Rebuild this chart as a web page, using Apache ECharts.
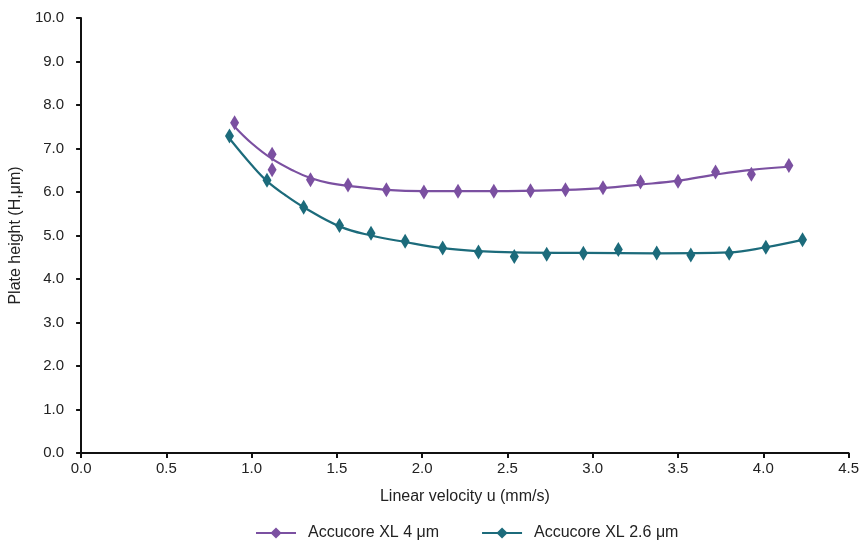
<!DOCTYPE html>
<html>
<head>
<meta charset="utf-8">
<script src="https://cdn.jsdelivr.net/npm/echarts@6/dist/echarts.min.js"></script>
<style>
  html, body { margin: 0; padding: 0; background: #fff; }
  #main { width: 862px; height: 542px; }
</style>
</head>
<body>
<div id="main"></div>
<script>
// measured points
var xl4X = [0.90, 1.12, 1.12, 1.345, 1.565, 1.79, 2.01, 2.21, 2.42, 2.635, 2.84, 3.06, 3.28, 3.50, 3.72, 3.93, 4.15];
var xl4Y = [7.59, 6.87, 6.51, 6.28, 6.16, 6.05, 6.00, 6.02, 6.02, 6.03, 6.05, 6.10, 6.23, 6.25, 6.46, 6.41, 6.61];
var xl26X = [0.87, 1.09, 1.305, 1.515, 1.70, 1.90, 2.12, 2.33, 2.54, 2.73, 2.945, 3.15, 3.375, 3.575, 3.80, 4.015, 4.23];
var xl26Y = [7.29, 6.27, 5.65, 5.23, 5.05, 4.87, 4.71, 4.62, 4.52, 4.57, 4.59, 4.68, 4.60, 4.55, 4.59, 4.73, 4.90];

// trend curves
var fit4X = [0.90, 1.00, 1.12, 1.25, 1.345, 1.45, 1.565, 1.79, 2.01, 2.42, 2.84, 3.06, 3.28, 3.50, 3.72, 3.93, 4.15];
var fit4Y = [7.50, 7.12, 6.76, 6.48, 6.32, 6.21, 6.14, 6.05, 6.02, 6.02, 6.05, 6.09, 6.17, 6.26, 6.40, 6.51, 6.58];
var fit26X = [0.87, 1.00, 1.09, 1.20, 1.305, 1.515, 1.70, 1.90, 2.12, 2.33, 2.54, 2.945, 3.375, 3.80, 4.015, 4.23];
var fit26Y = [7.23, 6.62, 6.25, 5.92, 5.65, 5.21, 5.00, 4.85, 4.71, 4.64, 4.61, 4.60, 4.59, 4.61, 4.73, 4.90];

var names = ['Accucore XL 4 μm', 'Accucore XL 2.6 μm'];
var colors = ['#7b50a1', '#1c6b7b'];

function pairs(xs, ys) {
  var out = [];
  for (var i = 0; i < xs.length; i++) out.push([xs[i], ys[i]]);
  return out;
}

var chart = echarts.init(document.getElementById('main'));

var font = 'Liberation Sans, Arial, sans-serif';
var tickText = { color: '#222', fontSize: 15, fontFamily: font };
var nameText = { color: '#222', fontSize: 16, fontFamily: font };

var series = [];
var fits = [[fit4X, fit4Y], [fit26X, fit26Y]];
var pts = [[xl4X, xl4Y], [xl26X, xl26Y]];
for (var i = 0; i < names.length; i++) {
  series.push({
    name: names[i],
    type: 'line',
    smooth: 0.4,
    symbol: 'diamond',
    symbolSize: [9, 14],
    showSymbol: false,
    lineStyle: { color: colors[i], width: 2.2 },
    itemStyle: { color: colors[i] },
    data: pairs(fits[i][0], fits[i][1]),
    z: 2
  });
}
for (var j = 0; j < names.length; j++) {
  series.push({
    name: names[j],
    type: 'scatter',
    symbol: 'diamond',
    symbolSize: [9, 15],
    itemStyle: { color: colors[j], opacity: 1 },
    data: pairs(pts[j][0], pts[j][1]),
    z: 3
  });
}

var option = {
  backgroundColor: '#fff',
  animation: false,
  grid: { left: 80, right: 12, top: 18, bottom: 89, containLabel: false },
  legend: {
    top: 525,
    left: 255,
    itemWidth: 40,
    itemHeight: 14,
    itemGap: 42,
    padding: 0,
    textStyle: { color: '#222', fontSize: 16, fontFamily: font, padding: [0, 0, 0, 7] },
    data: names
  },
  xAxis: {
    type: 'value',
    min: 0,
    max: 4.5,
    interval: 0.5,
    name: 'Linear velocity u (mm/s)',
    nameLocation: 'middle',
    nameGap: 36,
    nameTextStyle: nameText,
    axisLine: { lineStyle: { color: '#111', width: 2 } },
    axisTick: { show: true, inside: false, length: 5, lineStyle: { color: '#111', width: 2 } },
    axisLabel: Object.assign({ margin: 8, formatter: function (v) { return v.toFixed(1); } }, tickText),
    splitLine: { show: false }
  },
  yAxis: {
    type: 'value',
    min: 0,
    max: 10,
    interval: 1,
    name: 'Plate height (H,μm)',
    nameLocation: 'middle',
    nameGap: 50,
    nameTextStyle: nameText,
    axisLine: { show: true, lineStyle: { color: '#111', width: 2 } },
    axisTick: { show: true, inside: false, length: 5, lineStyle: { color: '#111', width: 2 } },
    axisLabel: Object.assign({ margin: 17, formatter: function (v) { return v.toFixed(1); } }, tickText),
    splitLine: { show: false }
  },
  series: series
};

chart.setOption(option);
</script>
</body>
</html>
